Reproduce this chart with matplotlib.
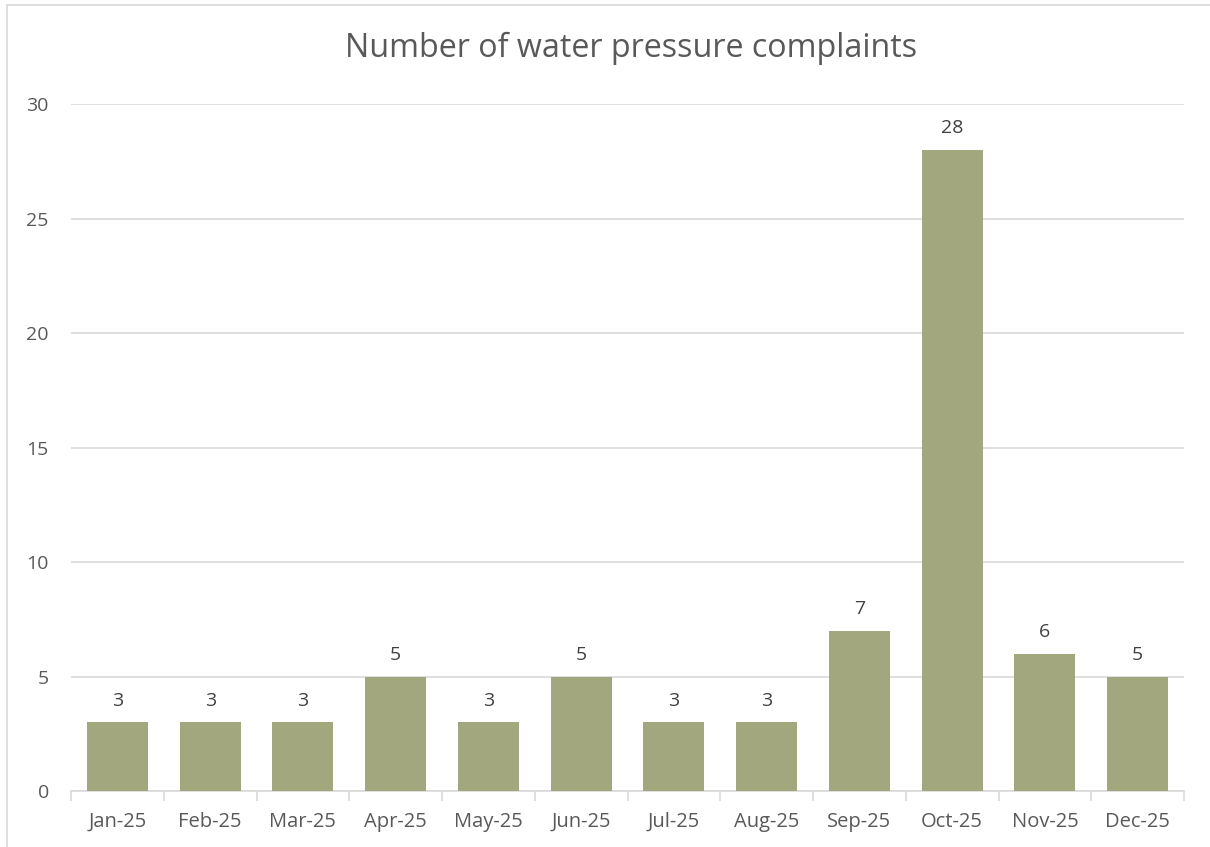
import matplotlib.pyplot as plt
from matplotlib.patches import Rectangle

months = ['Jan-25', 'Feb-25', 'Mar-25', 'Apr-25', 'May-25', 'Jun-25',
          'Jul-25', 'Aug-25', 'Sep-25', 'Oct-25', 'Nov-25', 'Dec-25']
complaints = [3, 3, 3, 5, 3, 5, 3, 3, 7, 28, 6, 5]

plt.rcParams['font.family'] = ['Open Sans', 'DejaVu Sans']

W, H = 1210, 847
fig = plt.figure(figsize=(W / 100, H / 100), dpi=100)
ax = fig.add_axes([71 / W, 1 - 791 / H, (1184 - 71) / W, (791 - 104) / H])

# outer chart border (cut off at right/bottom in the original)
fig.patches.append(Rectangle((7 / W, -0.1), 1.2, 1 - 5 / H + 0.1,
                             transform=fig.transFigure, fill=False,
                             edgecolor='#d9d9d9', linewidth=1.2))

x = range(len(months))
bars = ax.bar(x, complaints, width=0.66, color='#a3a77d', zorder=3)
for xi, v in zip(x, complaints):
    ax.text(xi, v + 0.55, str(v), ha='center', va='bottom',
            fontsize=14, color='#404040')

ax.set_xlim(-0.5, len(months) - 0.5)
ax.set_ylim(0, 30)
ax.set_yticks(range(0, 31, 5))
ax.grid(axis='y', color='#d9d9d9', linewidth=1.2, zorder=0)

ax.set_xticks(x)
ax.set_xticklabels(months)
ax.set_xticks([i - 0.5 for i in range(len(months) + 1)], minor=True)
ax.tick_params(axis='x', which='major', length=0, pad=15, labelsize=14.5,
               labelcolor='#595959')
ax.tick_params(axis='x', which='minor', length=7, width=1.2, color='#d9d9d9')
ax.tick_params(axis='y', length=0, pad=16, labelsize=14, labelcolor='#595959')

for s in ['top', 'right', 'left']:
    ax.spines[s].set_visible(False)
ax.spines['bottom'].set_color('#d9d9d9')
ax.spines['bottom'].set_linewidth(1.2)

fig.text(631 / W, 1 - 48 / H, 'Number of water pressure complaints',
         ha='center', va='center', fontsize=23.2, color='#595959')

fig.savefig('out.png', dpi=100)
